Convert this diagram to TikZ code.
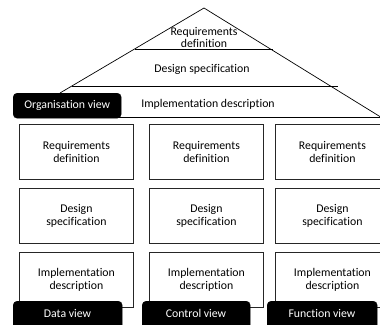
\documentclass[tikz,border=0pt]{standalone}
\usepackage{fontspec}
\setmainfont[Ligatures={NoCommon}]{Carlito}
\begin{document}
\begin{tikzpicture}[x=1pt,y=-1pt,
  line/.style={line width=0.7pt,black},
  fnt/.style={font=\fontsize{11.8}{12.5}\selectfont},
  cell/.style={fnt,draw=black!85,line width=0.8pt,fill=white,minimum width=114pt,minimum height=55pt,inner sep=0pt,align=center,anchor=north west},
  lbl/.style={draw=black,fill=black,rounded corners=4pt,text=white,inner sep=0pt,anchor=north west},
  txt/.style={fnt,align=center,inner sep=0pt}]
\useasboundingbox (0,0) rectangle (380,324);
\clip (0,0) rectangle (380,324);
% pyramid
\coordinate (apex) at (204,8);
\coordinate (bl) at (60,93);
\coordinate (br) at (392,124);
\draw[line] (bl) -- (apex) -- (br);
\coordinate (l1a) at (135,49.5);
\coordinate (l1b) at (273,49.5);
\draw[line] (l1a) -- (l1b);
\coordinate (l2a) at (72,86.5);
\coordinate (l2b) at (338,86.5);
\draw[line] (l2a) -- (l2b);
\coordinate (l3a) at (110,117);
\coordinate (l3b) at (380,117);
\draw[line] (l3a) -- (l3b);
\node[txt] (preq) at (204,37.5) {Requirements\\definition};
\node[txt] (pdes) at (202,69) {Design specification};
\node[txt] (pimp) at (208,104) {Implementation description};
\node[lbl,fnt,minimum width=108pt,minimum height=25pt] (org) at (13,93) {Organisation view};
% columns
\foreach \c/\x in {1/19,2/149,3/275}{
  \node[cell] (r\c) at (\x,124) {Requirements\\definition};
  \node[cell] (d\c) at (\x,188) {Design\\specification};
  \node[cell] (i\c) at (\x,252) {Implementation\\description};
}
\node[lbl,minimum width=109pt,minimum height=30pt] (dv) at (13,301) {};
\node[lbl,minimum width=108pt,minimum height=30pt] (cv) at (142,301) {};
\node[lbl,minimum width=110pt,minimum height=30pt] (fv) at (267,301) {};
\node[txt,text=white] (dvt) at (67.5,313) {Data view};
\node[txt,text=white] (cvt) at (196,313) {Control view};
\node[txt,text=white] (fvt) at (322,313) {Function view};
\end{tikzpicture}
\end{document}
